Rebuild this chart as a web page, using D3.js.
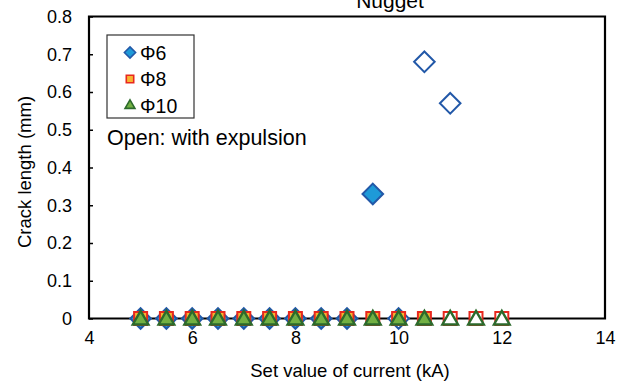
<!DOCTYPE html>
<html><head><meta charset="utf-8">
<script src="https://cdn.jsdelivr.net/npm/d3@7"></script>
<style>body{margin:0;background:#fff}svg{display:block;font-family:"Liberation Sans",Arial,sans-serif}</style>
</head><body><svg id="c" width="626" height="382"></svg>
<script>
// Data
const seriesNames = ["Φ6", "Φ8", "Φ10"];
const phi6X    = [5, 5.5, 6, 6.5, 7, 7.5, 8, 8.5, 9, 9.5, 10, 10.5, 11];
const phi6Y    = [0, 0, 0, 0, 0, 0, 0, 0, 0, 0.33, 0, 0.68, 0.57];
const phi6Open = [0, 0, 0, 0, 0, 0, 0, 0, 0, 0, 1, 1, 1];
const phi8X    = [5, 5.5, 6, 6.5, 7, 7.5, 8, 8.5, 9, 9.5, 10, 10.5, 11, 11.5, 12];
const phi8Y    = [0, 0, 0, 0, 0, 0, 0, 0, 0, 0, 0, 0, 0, 0, 0];
const phi8Open = [0, 0, 0, 0, 0, 0, 0, 0, 0, 0, 0, 0, 1, 1, 1];
const phi10X   = [5, 5.5, 6, 6.5, 7, 7.5, 8, 8.5, 9, 9.5, 10, 10.5, 11, 11.5, 12];
const phi10Y   = [0, 0, 0, 0, 0, 0, 0, 0, 0, 0, 0, 0, 0, 0, 0];
const phi10Open= [0, 0, 0, 0, 0, 0, 0, 0, 0, 0, 0, 0, 1, 1, 1];
const xTicks = [4, 6, 8, 10, 12, 14];
const yTicks = [0, 0.1, 0.2, 0.3, 0.4, 0.5, 0.6, 0.7, 0.8];

const svg = d3.select("#c");
const L = 89, R = 605, T = 16.5, B = 318.5;
const x = d3.scaleLinear().domain([4, 14]).range([L, R]);
const y = d3.scaleLinear().domain([0, 0.8]).range([B, T]);

// title (partly cut at top, as in the reference)
svg.append("text").attr("x", 390).attr("y", 8).attr("text-anchor", "middle")
  .attr("font-size", 21).text("Nugget");

// y axis ticks inward + labels
const yAx = svg.append("g").attr("transform", `translate(${L},0)`)
  .call(d3.axisRight(y).tickValues(yTicks).tickSize(4).tickFormat(""));
yAx.select(".domain").remove();
yAx.selectAll("line").attr("stroke", "#000").attr("stroke-width", 1.5);
svg.append("g").selectAll("text").data(yTicks).join("text")
  .attr("x", 72).attr("y", d => y(d)).attr("dy", "0.35em").attr("text-anchor", "end")
  .attr("font-size", 18).text(d => d3.format("")(d));

// x tick labels
const xAx = svg.append("g").attr("transform", `translate(0,${B})`)
  .call(d3.axisBottom(x).tickValues(xTicks).tickSize(0).tickPadding(13).tickFormat(d3.format("d")));
xAx.select(".domain").remove();
xAx.selectAll("text").attr("font-size", 18).attr("font-family", "Liberation Sans, Arial, sans-serif").attr("fill", "#000");

// frame
svg.append("path").attr("d", `M${L},${B}V${T}H${R}V${B}H${L}Z`)
  .attr("fill", "none").attr("stroke", "#000").attr("stroke-width", 2.2);

// axis titles
svg.append("text").attr("x", 350).attr("y", 377).attr("text-anchor", "middle")
  .attr("font-size", 18.5).text("Set value of current (kA)");
svg.append("text").attr("transform", "translate(25,172) rotate(-90)").attr("text-anchor", "middle")
  .attr("dy", "0.35em").attr("font-size", 18.5).text("Crack length (mm)");

// markers
const styles = [
  {sym: d3.symbolDiamond2, size: 270, fill: "#1e9ad8", stroke: "#2258a8", sw: 2},
  {sym: d3.symbolSquare2,  size: 215, fill: "#f7b431", stroke: "#e8281e", sw: 2},
  {sym: d3.symbolTriangle2,size: 175, fill: "#72b043", stroke: "#2c6a2c", sw: 2.4},
];
const series = [
  phi6X.map((v, i) => ({x: v, y: phi6Y[i], open: phi6Open[i]})),
  phi8X.map((v, i) => ({x: v, y: phi8Y[i], open: phi8Open[i]})),
  phi10X.map((v, i) => ({x: v, y: phi10Y[i], open: phi10Open[i]})),
];
series.forEach((data, s) => {
  const st = styles[s];
  svg.append("g").selectAll("path").data(data).join("path")
    .attr("transform", d => `translate(${x(d.x)},${y(d.y) + (s === 2 ? 1.5 : 0)})`)
    .attr("d", d3.symbol(st.sym, st.size)())
    .attr("fill", d => d.open ? "#fff" : st.fill)
    .attr("stroke", st.stroke).attr("stroke-width", st.sw);
});

// legend
svg.append("rect").attr("x", 107).attr("y", 35).attr("width", 87).attr("height", 83)
  .attr("fill", "#fff").attr("stroke", "#333").attr("stroke-width", 1.2);
const legY = [52.5, 79, 105.5];
const legSize = [80, 70, 70];
seriesNames.forEach((n, i) => {
  const st = styles[i];
  svg.append("path").attr("transform", `translate(130,${legY[i]})`)
    .attr("d", d3.symbol(st.sym, legSize[i])())
    .attr("fill", st.fill).attr("stroke", st.stroke).attr("stroke-width", 1.6);
  svg.append("text").attr("x", 140).attr("y", legY[i]).attr("dy", "0.36em")
    .attr("font-size", 19.5).text(n);
});
svg.append("text").attr("x", 107).attr("y", 137).attr("dy", "0.35em")
  .attr("font-size", 21.5).text("Open: with expulsion");
</script></body></html>
